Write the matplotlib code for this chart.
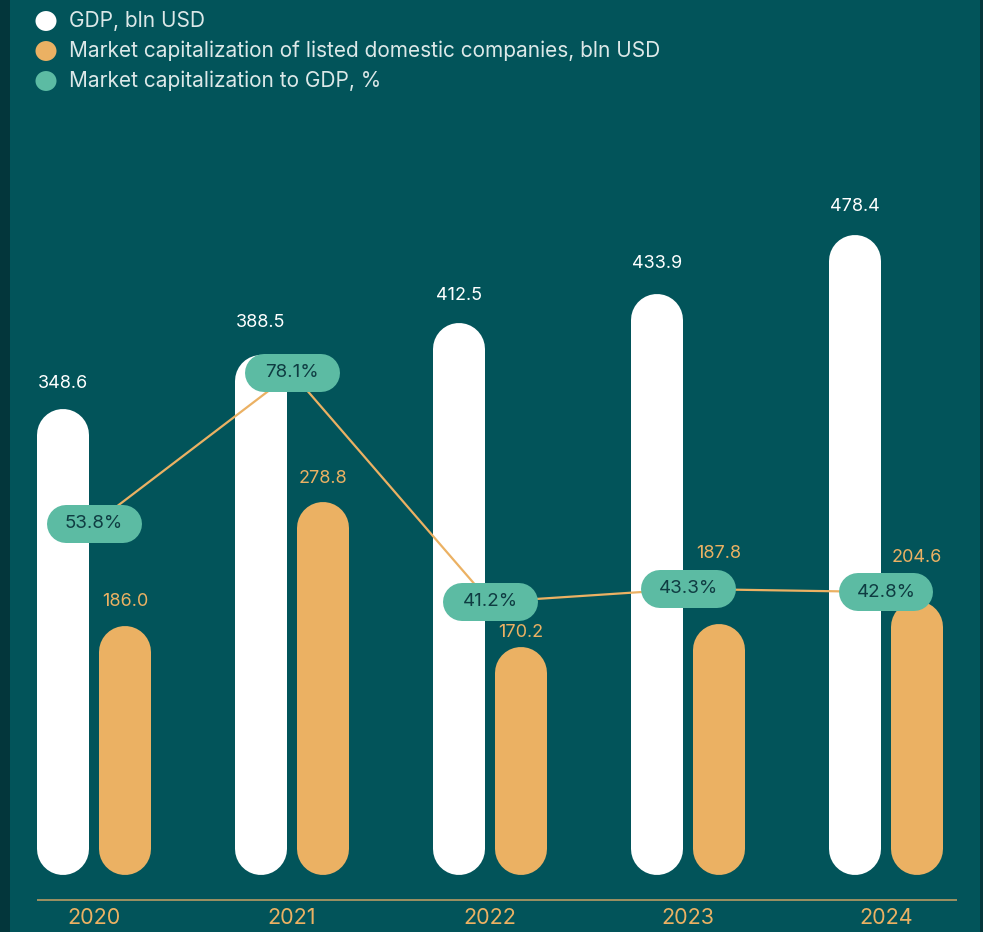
import matplotlib
matplotlib.use("Agg")
import matplotlib.pyplot as plt
from matplotlib.patches import Rectangle, Circle

# ---- data -------------------------------------------------------------
years = ["2020", "2021", "2022", "2023", "2024"]
gdp = [348.6, 388.5, 412.5, 433.9, 478.4]              # bln USD
market_cap = [186.0, 278.8, 170.2, 187.8, 204.6]       # bln USD
cap_to_gdp = [53.8, 78.1, 41.2, 43.3, 42.8]            # %

legend_labels = [
    "GDP, bln USD",
    "Market capitalization of listed domestic companies, bln USD",
    "Market capitalization to GDP, %",
]

# ---- style ------------------------------------------------------------
BG = "#02545A"
STRIP = "#03363B"
WHITE = "#FFFFFF"
ORANGE = "#EBB163"
GREEN = "#5CBBA3"
PILL_TEXT = "#0F3C42"
LEGEND_TEXT = "#DCE8E8"
FONT = ["Inter", "DejaVu Sans"]

W_PX, H_PX, DPI = 983, 932, 100
PT_PER_PX = 72.0 / DPI
fig = plt.figure(figsize=(W_PX / DPI, H_PX / DPI), dpi=DPI, facecolor=BG)

# dark edge strips
fig.patches.append(Rectangle((0, 0), 10 / W_PX, 1, transform=fig.transFigure,
                             facecolor=STRIP, edgecolor="none", zorder=0))
fig.patches.append(Rectangle((980 / W_PX, 0), 3 / W_PX, 1, transform=fig.transFigure,
                             facecolor=STRIP, edgecolor="none", zorder=0))

ax = fig.add_axes([0, 0, 1, 1])
ax.set_facecolor("none")
ax.set_axis_off()

# horizontal scale: one category = 198 px, first group centred at 94 px
group_px, first_px = 198.0, 94.0
ax.set_xlim(-first_px / group_px, (W_PX - first_px) / group_px)
# vertical scale for bln USD: zero at 57 px from the bottom, 1.338 px per unit
base_px, unit_px = 57.0, 1.338
ax.set_ylim(-base_px / unit_px, (H_PX - base_px) / unit_px)

x_per_px = 1.0 / group_px
y_per_px = 1.0 / unit_px

BAR_PX = 52
offset = 31 * x_per_px
cap_r = BAR_PX / 2 * y_per_px   # semicircular end, in value units


def rounded_bar(xc, value, color):
    """Pill-shaped bar spanning the baseline up to value (round caps included)."""
    ax.plot([xc, xc], [cap_r, value - cap_r], color=color,
            lw=BAR_PX * PT_PER_PX, solid_capstyle="round", zorder=2)


gdp_gap_px = [25, 33, 28, 31, 28]
cap_gap_px = [25, 23, 15, 70, 44]

for i, (g, m) in enumerate(zip(gdp, market_cap)):
    rounded_bar(i - offset, g, WHITE)
    rounded_bar(i + offset, m, ORANGE)
    ax.annotate(f"{g:.1f}", xy=(i - offset, g), xytext=(0, gdp_gap_px[i]),
                textcoords="offset pixels", ha="center", va="center",
                color=WHITE, fontsize=13, family=FONT, zorder=6)
    ax.annotate(f"{m:.1f}", xy=(i + offset, m), xytext=(0, cap_gap_px[i]),
                textcoords="offset pixels", ha="center", va="center",
                color=ORANGE, fontsize=13, family=FONT, zorder=6)

# baseline rule and year labels
rule_y = -25 * y_per_px
ax.plot([-57 * x_per_px, (957 - first_px) * x_per_px], [rule_y, rule_y],
        color="#C9A164", lw=1.1, zorder=1, solid_capstyle="butt")
for i, yr in enumerate(years):
    ax.text(i, rule_y - 18 * y_per_px, yr, ha="center", va="center",
            color=ORANGE, fontsize=15.5, family=FONT)

# ---- ratio line on its own scale -------------------------------------
ax2 = ax.twinx()
ax2.set_position([0, 0, 1, 1])
ax2.set_facecolor("none")
ax2.set_axis_off()
ax2.set_xlim(ax.get_xlim())
pct_px = 6.206                      # px per percentage point
ref_val, ref_px = 41.2, H_PX - 602  # 41.2 % sits 602 px from the top
ax2.set_ylim(ref_val - ref_px / pct_px, ref_val + (H_PX - ref_px) / pct_px)

xs = list(range(len(years)))
ax2.plot(xs, cap_to_gdp, color=ORANGE, lw=1.6, zorder=3)

PILL_W, PILL_H = 95, 38
half_len = (PILL_W - PILL_H) / 2 * x_per_px
for x, v in zip(xs, cap_to_gdp):
    ax2.plot([x - half_len, x + half_len], [v, v], color=GREEN,
             lw=PILL_H * PT_PER_PX, solid_capstyle="round", zorder=4)
    ax2.text(x, v, f"{v:.1f}%", ha="center", va="center", color=PILL_TEXT,
             fontsize=13.5, family=FONT, zorder=5)

# ---- legend ----------------------------------------------------------
for k, (lab, col) in enumerate(zip(legend_labels, [WHITE, ORANGE, GREEN])):
    cy = 1 - (21 + 30 * k) / H_PX
    fig.patches.append(Circle((46 / W_PX, cy), 10.5 / W_PX, transform=fig.transFigure,
                              facecolor=col, edgecolor="none"))
    fig.text(69 / W_PX, cy, lab, ha="left", va="center", color=LEGEND_TEXT,
             fontsize=15, family=FONT)

fig.savefig("out.png", dpi=DPI, facecolor=BG)
